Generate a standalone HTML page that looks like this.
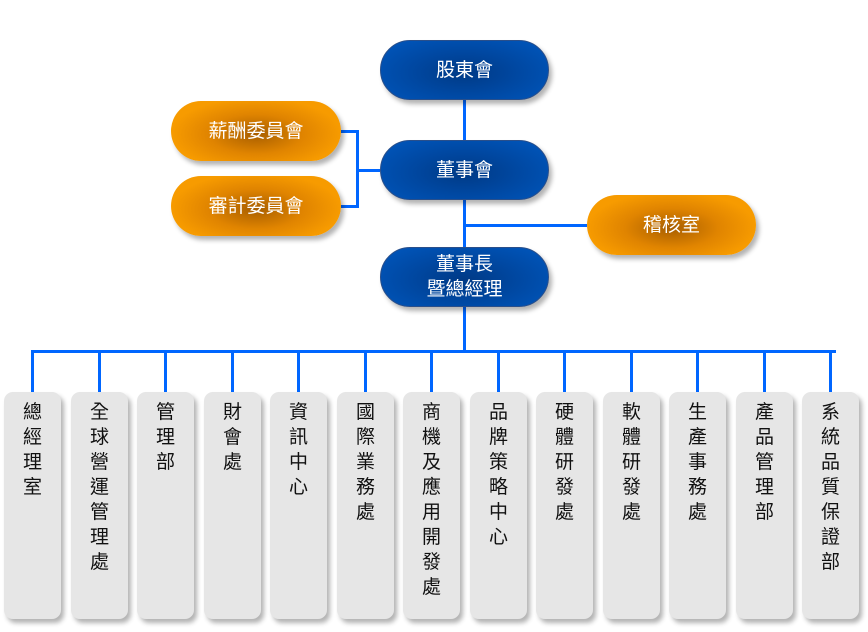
<!DOCTYPE html>
<html><head><meta charset="utf-8"><style>
body{margin:0;width:868px;height:632px;background:#fff;position:relative;overflow:hidden;font-family:"Liberation Sans","Noto Sans CJK TC",sans-serif}
.n{position:absolute;width:169px;height:60px;border-radius:30px;color:#fff;font-size:19px;display:flex;align-items:center;justify-content:center;text-align:center;line-height:25px;box-shadow:3px 4px 5px rgba(0,0,0,.3);box-sizing:border-box}
.b{background:radial-gradient(ellipse 60% 70% at 50% 55%,#003a86 0%,#0047a0 50%,#0054b8 100%);border:1px solid #2a4f8a}
.o{background:radial-gradient(ellipse 50% 60% at 50% 55%,#a85e00 0%,#e08400 55%,#f79b00 100%)}
.l{position:absolute;background:#0066ff}
.d{position:absolute;top:392px;width:57px;height:227px;background:#e6e6e6;border-radius:9px;box-shadow:3px 4px 5px rgba(0,0,0,.3);font-size:19px;text-align:center;box-sizing:border-box;color:#111}
.d span{position:absolute;left:0;right:0;top:8px;line-height:25px}
</style></head><body>
<div class="l" style="left:463px;top:100px;width:3px;height:252px"></div>
<div class="l" style="left:464px;top:224px;width:123px;height:3px"></div>
<div class="l" style="left:341px;top:130px;width:18px;height:3px"></div>
<div class="l" style="left:341px;top:205px;width:18px;height:3px"></div>
<div class="l" style="left:356px;top:130px;width:3px;height:78px"></div>
<div class="l" style="left:356px;top:169px;width:24px;height:3px"></div>
<div class="l" style="left:33px;top:350px;width:803px;height:3px"></div>
<div class="n b" style="left:380px;top:40px">股東會</div>
<div class="n b" style="left:380px;top:140px">董事會</div>
<div class="n b" style="left:380px;top:247px">董事長<br>暨總經理</div>
<div class="n o" style="left:171px;top:101px;width:170px">薪酬委員會</div>
<div class="n o" style="left:171px;top:176px;width:170px">審計委員會</div>
<div class="n o" style="left:587px;top:195px">稽核室</div>
<div id="depts"></div>
<script>
var t=["總經理室","全球營運管理處","管理部","財會處","資訊中心","國際業務處","商機及應用開發處","品牌策略中心","硬體研發處","軟體研發處","生產事務處","產品管理部","系統品質保證部"];
var h="";
for(var i=0;i<13;i++){var x=Math.round(4+i*66.5);var cx=x+28;
h+='<div class="l" style="left:'+(cx-1)+'px;top:350px;width:3px;height:42px"></div>';
h+='<div class="d" style="left:'+x+'px"><span>'+t[i].split("").join("<br>")+'</span></div>';}
document.getElementById("depts").innerHTML=h;
</script>
</body></html>
